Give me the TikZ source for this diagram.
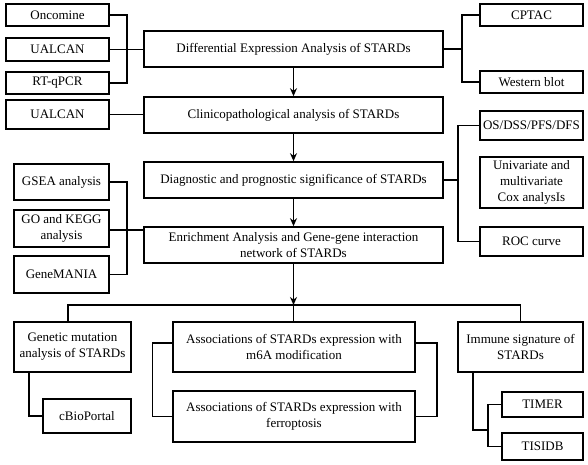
\documentclass[tikz,border=0pt]{standalone}
\usepackage{fontspec}
\setmainfont{Liberation Serif}
\usetikzlibrary{arrows.meta}
\begin{document}
\begin{tikzpicture}[x=1pt,y=-1pt,
  box/.style={draw=black,line width=1.6pt,inner sep=0pt,align=center,
    font=\fontsize{13}{16}\selectfont,fill=white},
  conn/.style={draw=black,line width=1.4pt},
  arr/.style={conn,-{Stealth[length=8pt,width=7pt]}}]
\useasboundingbox[fill=white] (0,0) rectangle (588,465);
% left column
\node[box,minimum width=103pt,minimum height=22pt] (onc) at (57.5,15) {Oncomine};
\node[box,minimum width=103pt,minimum height=23pt] (ual1) at (57.5,49.5) {UALCAN};
\node[box,minimum width=103pt,minimum height=22pt] (rt) at (57.5,83) {RT-qPCR};
\node[box,minimum width=103pt,minimum height=29pt] (ual2) at (57.5,114.5) {UALCAN};
\node[box,minimum width=95pt,minimum height=36pt] (gsea) at (61.5,182) {GSEA analysis};
\node[box,minimum width=95pt,minimum height=37pt] (go) at (61.5,228.5) {GO and KEGG\\analysis};
\node[box,minimum width=95pt,minimum height=37pt] (gm) at (61.5,274.5) {GeneMANIA};
% main column
\node[box,minimum width=299pt,minimum height=36pt] (dea) at (293.5,49) {Differential Expression Analysis of STARDs};
\node[box,minimum width=299pt,minimum height=36pt] (cli) at (293.5,115) {Clinicopathological analysis of STARDs};
\node[box,minimum width=299pt,minimum height=36pt] (dia) at (293.5,180) {Diagnostic and prognostic significance of STARDs};
\node[box,minimum width=299pt,minimum height=36pt] (enr) at (293.5,245) {Enrichment Analysis and Gene-gene interaction\\network of STARDs};
% right column
\node[box,minimum width=103pt,minimum height=22pt] (cptac) at (531.5,15) {CPTAC};
\node[box,minimum width=103pt,minimum height=22pt] (wb) at (531.5,82) {Western blot};
\node[box,minimum width=103pt,minimum height=29pt] (os) at (531.5,125.5) {OS/DSS/PFS/DFS};
\node[box,minimum width=103pt,minimum height=51pt] (uni) at (531.5,182.5) {Univariate and\\multivariate\\Cox analysIs};
\node[box,minimum width=103pt,minimum height=29pt] (roc) at (531.5,241.5) {ROC curve};
% bottom row
\node[box,minimum width=117pt,minimum height=50pt] (gen) at (72.5,347) {Genetic mutation\\analysis of STARDs};
\node[box,minimum width=88pt,minimum height=34pt] (cbio) at (87,416) {cBioPortal};
\node[box,minimum width=242pt,minimum height=50pt] (m6a) at (294,347) {Associations of STARDs expression with\\m6A modification};
\node[box,minimum width=242pt,minimum height=51pt] (fer) at (294,416.5) {Associations of STARDs expression with\\ferroptosis};
\node[box,minimum width=125pt,minimum height=50pt] (imm) at (520.5,347) {Immune signature of\\STARDs};
\node[box,minimum width=81pt,minimum height=25pt] (timer) at (542.5,404.5) {TIMER};
\node[box,minimum width=81pt,minimum height=27pt] (tisidb) at (542.5,446.5) {TISIDB};
% coordinates
\coordinate (bl1) at (127,49);
\coordinate (br1) at (462,49);
\coordinate (br2) at (458,182);
\coordinate (bl3) at (127,230);
\coordinate (hub) at (293.5,305);
\coordinate (ib) at (488,430);
% connectors
\draw[conn] (onc.east) -| (bl1) |- (rt.east);
\draw[conn] (ual1.east) -- (ual1.east -| dea.west);
\draw[conn] (cptac.west) -| (br1) |- (wb.west);
\draw[conn] (dea.east) -- (br1);
\draw[conn] (ual2.east) -- (ual2.east -| cli.west);
\draw[conn] (os.west) -| (br2) |- (roc.west);
\draw[conn] (dia.east) -- (dia.east -| br2);
\draw[conn] (gsea.east) -| (bl3) |- (gm.east);
\draw[conn] (bl3) -- (bl3 -| enr.west);
\draw[conn] (go.east |- bl3) -- (bl3);
\draw[arr] (dea) -- (cli);
\draw[arr] (cli) -- (dia);
\draw[arr] (dia) -- (enr);
\draw[arr] (enr) -- (hub);
\draw[conn] ([xshift=-4.5pt]gen.north) |- (hub) -| (imm.north);
\draw[conn] (hub) -- (hub |- m6a.north);
\draw[conn] ([xshift=-43.5pt]gen.south) |- (cbio.west);
\draw[conn] ([yshift=4pt]m6a.west) -- ++(-20,0) |- (fer.west);
\draw[conn] ([yshift=4pt]m6a.east) -- ++(21,0) |- (fer.east);
\draw[conn] ([xshift=-47.5pt]imm.south) |- (ib);
\draw[conn] (timer.west) -| (ib) |- (tisidb.west);
\end{tikzpicture}
\end{document}
